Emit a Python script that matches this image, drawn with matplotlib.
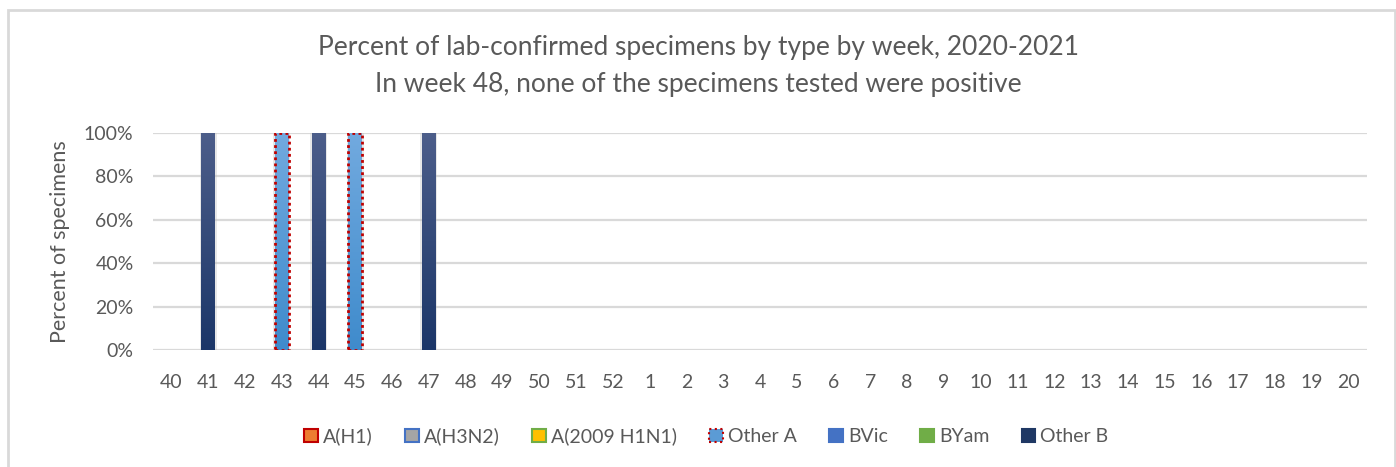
import numpy as np
import matplotlib
matplotlib.use('Agg')
import matplotlib.pyplot as plt
from matplotlib.colors import LinearSegmentedColormap
from matplotlib.patches import Rectangle, Patch

# 数据：周次与各类型阳性标本百分比
weeks = ['40', '41', '42', '43', '44', '45', '46', '47', '48', '49', '50', '51', '52',
         '1', '2', '3', '4', '5', '6', '7', '8', '9', '10', '11', '12', '13', '14',
         '15', '16', '17', '18', '19', '20']
a_h1 = [0, 0, 0, 0, 0, 0, 0, 0, 0, 0, 0, 0, 0, 0, 0, 0, 0, 0, 0, 0, 0, 0, 0, 0, 0, 0, 0, 0, 0, 0, 0, 0, 0]
a_h3n2 = [0, 0, 0, 0, 0, 0, 0, 0, 0, 0, 0, 0, 0, 0, 0, 0, 0, 0, 0, 0, 0, 0, 0, 0, 0, 0, 0, 0, 0, 0, 0, 0, 0]
a_2009 = [0, 0, 0, 0, 0, 0, 0, 0, 0, 0, 0, 0, 0, 0, 0, 0, 0, 0, 0, 0, 0, 0, 0, 0, 0, 0, 0, 0, 0, 0, 0, 0, 0]
other_a = [0, 0, 0, 1, 0, 1, 0, 0, 0, 0, 0, 0, 0, 0, 0, 0, 0, 0, 0, 0, 0, 0, 0, 0, 0, 0, 0, 0, 0, 0, 0, 0, 0]
b_vic = [0, 0, 0, 0, 0, 0, 0, 0, 0, 0, 0, 0, 0, 0, 0, 0, 0, 0, 0, 0, 0, 0, 0, 0, 0, 0, 0, 0, 0, 0, 0, 0, 0]
b_yam = [0, 0, 0, 0, 0, 0, 0, 0, 0, 0, 0, 0, 0, 0, 0, 0, 0, 0, 0, 0, 0, 0, 0, 0, 0, 0, 0, 0, 0, 0, 0, 0, 0]
other_b = [0, 1, 0, 0, 1, 0, 0, 1, 0, 0, 0, 0, 0, 0, 0, 0, 0, 0, 0, 0, 0, 0, 0, 0, 0, 0, 0, 0, 0, 0, 0, 0, 0]

series_names = ['A(H1)', 'A(H3N2)', 'A(2009 H1N1)', 'Other A', 'BVic', 'BYam', 'Other B']
series_values = [a_h1, a_h3n2, a_2009, other_a, b_vic, b_yam, other_b]

plt.rcParams['font.family'] = ['Lato', 'DejaVu Sans']
text_color = '#595959'

fig = plt.figure(figsize=(13.96, 4.67), dpi=100)
ax = fig.add_axes([0.1096, 0.2505, 0.8696, 0.4647])

# 外边框
fig.patches.append(Rectangle((8 / 1396, -0.1), (1395 - 8) / 1396, 1.1 - 10 / 467,
                             transform=fig.transFigure, fill=False,
                             edgecolor='#d9d9d9', linewidth=2))

x = np.arange(len(weeks))
width = 0.38

face = ['#ed7d31', '#a5a5a5', '#ffc000', '#5b9bd5', '#4472c4', '#70ad47', '#1f3864']
grad = {
    'Other A': ['#3f8bcc', '#72aadf'],
    'Other B': ['#1b3668', '#4d5e8a'],
}

bottom = np.zeros(len(weeks))
for name, vals, fc in zip(series_names, series_values, face):
    vals = np.array(vals, dtype=float)
    bars = ax.bar(x, vals, width, bottom=bottom, color=fc, zorder=3, linewidth=0)
    if name in grad:
        cmap = LinearSegmentedColormap.from_list(name, grad[name])
        for rect, v in zip(bars, vals):
            if v <= 0:
                continue
            x0, y0 = rect.get_x(), rect.get_y()
            w, h = rect.get_width(), rect.get_height()
            # 柱子的淡阴影
            ax.add_patch(Rectangle((x0 - 0.04, y0), w + 0.08, h + 0.01, color='#bfbfbf',
                                   alpha=0.35, linewidth=0, zorder=2))
            g = np.linspace(0, 1, 256).reshape(-1, 1)
            im = ax.imshow(g, extent=[x0, x0 + w, y0, y0 + h], origin='lower',
                           aspect='auto', cmap=cmap, zorder=4)
            im.set_clip_path(rect)
            if name == 'Other A':
                ax.add_patch(Rectangle((x0, y0), w, h, fill=False, edgecolor='#c00000',
                                       linestyle=(0, (1, 1.2)), linewidth=2, zorder=5))
    bottom = bottom + vals

ax.set_xlim(-0.5, len(weeks) - 0.5)
ax.set_ylim(0, 1)
ax.set_yticks([0, 0.2, 0.4, 0.6, 0.8, 1.0])
ax.set_yticklabels(['0%', '20%', '40%', '60%', '80%', '100%'])
ax.set_xticks(x)
ax.set_xticklabels(weeks)
ax.tick_params(axis='both', length=0, labelsize=14, colors=text_color)
ax.tick_params(axis='x', pad=17)
ax.tick_params(axis='y', pad=14)
ax.grid(axis='y', color='#d9d9d9', linewidth=1.6, zorder=0)
ax.set_axisbelow(True)
for s in ax.spines.values():
    s.set_visible(False)

ax.set_ylabel('Percent of specimens', fontsize=15.5, color=text_color)
ax.yaxis.set_label_coords(-0.068, 0.5)

fig.text(0.5, 0.898, 'Percent of lab-confirmed specimens by type by week, 2020-2021',
         ha='center', va='center', fontsize=19, color=text_color)
fig.text(0.5, 0.819, 'In week 48, none of the specimens tested were positive',
         ha='center', va='center', fontsize=19, color=text_color)

# 图例
edge = ['#c00000', '#4472c4', '#70ad47', '#c00000', '#4472c4', '#70ad47', '#1f3864']
styles = ['-', '-', '-', ':', '-', '-', '-']
handles = [Patch(facecolor=f, edgecolor=e, linestyle=ls, linewidth=1.5, label=n)
           for f, e, ls, n in zip(face, edge, styles, series_names)]
fig.legend(handles=handles, loc='center', bbox_to_anchor=(0.506, 0.066), ncol=7,
           frameon=False, fontsize=14, handlelength=0.7, handleheight=0.7,
           handletextpad=0.25, columnspacing=1.68, labelcolor=text_color)

plt.savefig('out.png', dpi=100, facecolor='white')
